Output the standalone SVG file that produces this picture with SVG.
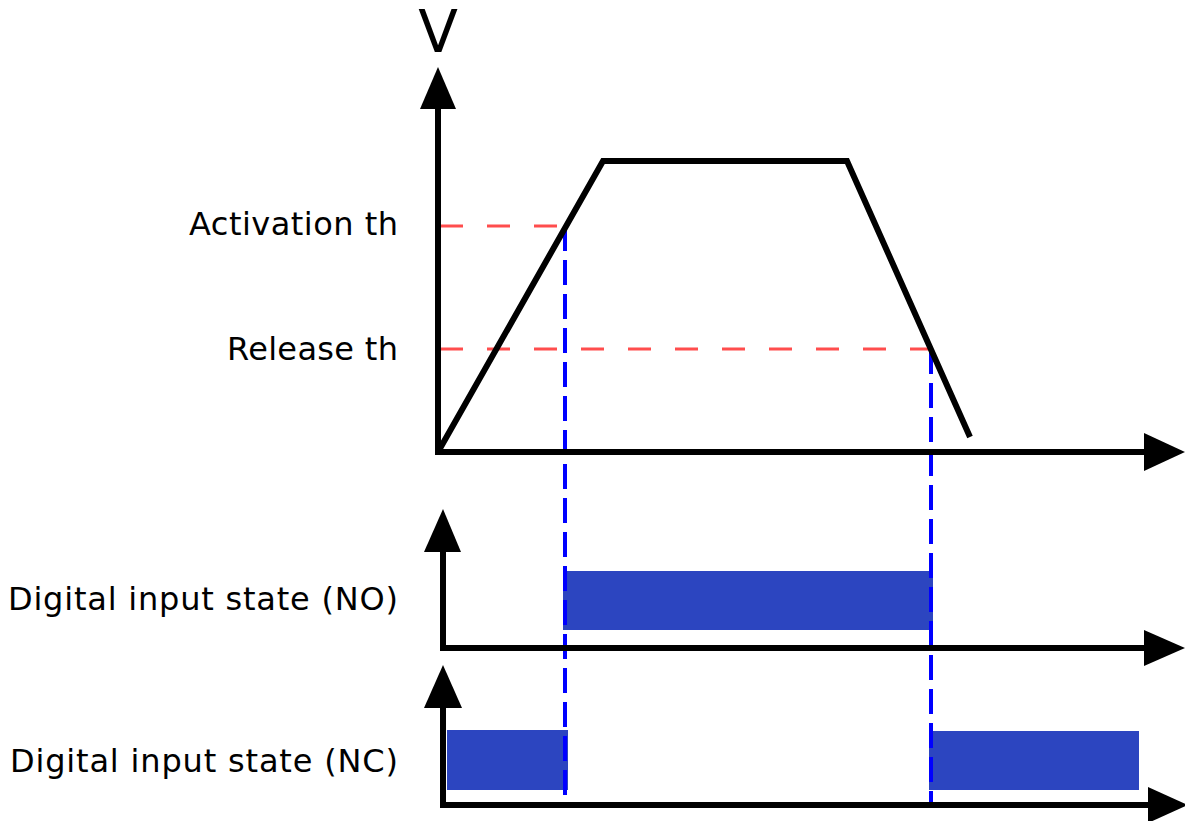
<svg xmlns="http://www.w3.org/2000/svg" width="1185" height="821" viewBox="0 0 1185 821">
<style>
.lbl{font-family:"DejaVu Sans","Verdana",sans-serif;font-size:32px;fill:#000;text-anchor:end}
.axis{stroke:#000;stroke-width:6;fill:none}
.sig{stroke:#000;stroke-width:6;fill:none;stroke-linejoin:miter}
.red{stroke:#ff4d4d;stroke-width:3;stroke-dasharray:23 24;fill:none}
.blue{stroke:#0000ff;stroke-width:4;stroke-dasharray:25 9;fill:none}
.bar{fill:#2c45c0}
.head{fill:#000}
</style>
<rect width="1185" height="821" fill="#fff"/>
<g id="labels">
<text x="438" y="52" style="font-family:'DejaVu Sans',sans-serif;font-size:58px;text-anchor:middle">V</text>
<text class="lbl" x="398" y="235" textLength="209" lengthAdjust="spacing">Activation th</text>
<text class="lbl" x="398" y="360" textLength="171" lengthAdjust="spacing">Release th</text>
<text class="lbl" x="398" y="610" textLength="390" lengthAdjust="spacing">Digital input state (NO)</text>
<text class="lbl" x="398" y="772" textLength="388" lengthAdjust="spacing">Digital input state (NC)</text>
</g>
<g id="thresholds">
<line class="red" x1="440" y1="226" x2="564" y2="226"/>
<line class="red" x1="440" y1="349" x2="931" y2="349"/>
</g>
<g id="bars">
<rect class="bar" x="563" y="571" width="370" height="59"/>
<rect class="bar" x="447" y="730" width="121" height="60"/>
<rect class="bar" x="929" y="731" width="210" height="59"/>
</g>
<g id="connectors">
<line class="blue" x1="565" y1="226" x2="565" y2="803"/>
<line class="blue" x1="931" y1="349" x2="931" y2="803"/>
</g>
<g id="chart-v">
<polyline class="axis" points="438,105 438,452 1148,452"/>
<polygon class="head" points="438,67 420,109 456,109"/>
<polygon class="head" points="1185,452 1144,433 1144,471"/>
<polyline class="sig" points="438,452 603,161 847,161 970,437"/>
</g>
<g id="chart-no">
<polyline class="axis" points="443,548 443,648 1148,648"/>
<polygon class="head" points="443,509 424,552 461,552"/>
<polygon class="head" points="1185,648 1144,630 1144,666"/>
</g>
<g id="chart-nc">
<polyline class="axis" points="443,704 443,805 1150,805"/>
<polygon class="head" points="443,665 424,708 462,708"/>
<polygon class="head" points="1188,805 1148,787 1148,823"/>
</g>
</svg>
